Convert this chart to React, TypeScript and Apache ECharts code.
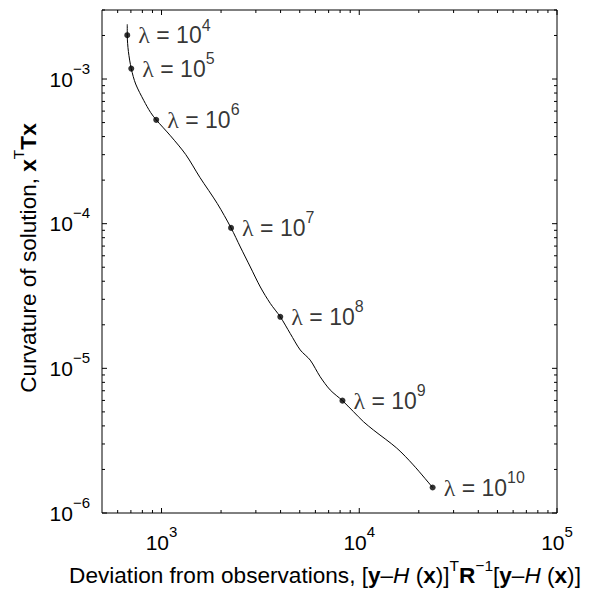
import React, { useEffect, useRef } from "react";
import * as echarts from "echarts";

// ---- data ----
const curveX = [671, 671, 680, 703, 740, 814, 880, 940, 1110, 1327, 1563, 1913, 2247, 2504, 2813, 3160, 3549, 3987, 4477, 5029, 5649, 6343, 7126, 8222, 9343, 10494, 11788, 15470, 18760, 23500];
const curveY = [2.39e-3, 2.01e-3, 1.55e-3, 1.18e-3, 9.24e-4, 7.09e-4, 5.88e-4, 5.22e-4, 4.05e-4, 3.0e-4, 2.09e-4, 1.38e-4, 9.35e-5, 6.9e-5, 5.02e-5, 3.65e-5, 2.81e-5, 2.27e-5, 1.74e-5, 1.34e-5, 1.14e-5, 8.75e-6, 7.09e-6, 5.98e-6, 5.02e-6, 4.28e-6, 3.75e-6, 2.81e-6, 2.15e-6, 1.5e-6];

const lambdaExp = [4, 5, 6, 7, 8, 9, 10];
const lambdaX = [671, 703, 940, 2247, 3987, 8222, 23500];
const lambdaY = [2.01e-3, 1.18e-3, 5.22e-4, 9.35e-5, 2.27e-5, 5.98e-6, 1.5e-6];

const X_MIN = 500;
const X_MAX = 1e5;
const Y_MIN = 1e-6;
const Y_MAX = 3e-3;

const xMajorTicks = [1e3, 1e4, 1e5];
const xMinorTicks = [600, 700, 800, 900, 2000, 3000, 4000, 5000, 6000, 7000, 8000, 9000, 20000, 30000, 40000, 50000, 60000, 70000, 80000, 90000];
const yMajorTicks = [1e-6, 1e-5, 1e-4, 1e-3];
const yMinorTicks = [2e-6, 3e-6, 4e-6, 5e-6, 6e-6, 7e-6, 8e-6, 9e-6, 2e-5, 3e-5, 4e-5, 5e-5, 6e-5, 7e-5, 8e-5, 9e-5, 2e-4, 3e-4, 4e-4, 5e-4, 6e-4, 7e-4, 8e-4, 9e-4, 2e-3, 3e-3];

const xTitle = "{n|Deviation from observations, [}{b|y}{n|–}{i|H}{n| (}{b|x}{n|)]}{s|T}{b|R}{s|−1}{n|[}{b|y}{n|–}{i|H}{n| (}{b|x}{n|)]}";
const yTitle = "{n|Curvature of solution, }{b|x}{s|T}{b|Tx}";

const FONT = "'Liberation Sans', Arial, Helvetica, sans-serif";
const SERIF = "'Liberation Serif', 'Times New Roman', serif";

const MAJOR_LEN = 5;
const MINOR_LEN = 3;

function pow10Label(v: number): string {
  const e = Math.log10(v);
  const r = Math.round(e);
  if (Math.abs(e - r) > 1e-6) return "";
  const s = r < 0 ? "−" + Math.abs(r) : String(r);
  return `{b|10}{s|${s}}`;
}

const tickRich = {
  b: { fontSize: 21, fontFamily: FONT, color: "#000" },
  s: { fontSize: 15, fontFamily: FONT, color: "#000", padding: [0, 0, 22, 0] },
};

const titleRich = {
  n: { fontSize: 22.6, fontFamily: FONT, fill: "#000" },
  b: { fontSize: 22.6, fontFamily: FONT, fontWeight: "bold", fill: "#000" },
  i: { fontSize: 22.6, fontFamily: FONT, fontStyle: "italic", fill: "#000" },
  s: { fontSize: 15.5, fontFamily: FONT, fill: "#000", padding: [0, 0, 20, 0] },
};

export default function App() {
  const ref = useRef<HTMLDivElement>(null);

  useEffect(() => {
    document.body.style.margin = "0";
    if (!ref.current) return;
    const chart = echarts.init(ref.current, undefined, { renderer: "svg" });

    const xTickData = [
      ...xMajorTicks.map((v) => [v, Y_MIN, MAJOR_LEN]),
      ...xMinorTicks.map((v) => [v, Y_MIN, MINOR_LEN]),
    ];
    const yTickData = [
      ...yMajorTicks.map((v) => [X_MIN, v, MAJOR_LEN]),
      ...yMinorTicks.map((v) => [X_MIN, v, MINOR_LEN]),
    ];
    const tickStyle = { stroke: "#000", lineWidth: 1 };

    chart.setOption({
      animation: false,
      backgroundColor: "#fff",
      grid: {
        left: 102,
        right: 38,
        top: 10,
        bottom: 82,
        show: true,
        borderColor: "#000",
        borderWidth: 1,
        backgroundColor: "transparent",
        containLabel: false,
        outerBoundsMode: "none",
      },
      xAxis: {
        type: "log",
        logBase: 10,
        min: X_MIN,
        max: X_MAX,
        axisLine: { show: false },
        axisTick: { show: false },
        splitLine: { show: false },
        minorTick: { show: false },
        axisLabel: {
          margin: 11,
          formatter: (v: number) => pow10Label(v),
          rich: tickRich,
          showMinLabel: true,
          showMaxLabel: true,
        },
      },
      yAxis: {
        type: "log",
        logBase: 10,
        min: Y_MIN,
        max: Y_MAX,
        axisLine: { show: false },
        axisTick: { show: false },
        splitLine: { show: false },
        minorTick: { show: false },
        axisLabel: {
          margin: 12,
          formatter: (v: number) => pow10Label(v),
          rich: tickRich,
          showMinLabel: true,
          showMaxLabel: true,
        },
      },
      graphic: [
        {
          type: "text",
          x: 325,
          y: 575.5,
          silent: true,
          style: { text: xTitle, rich: titleRich, align: "center", verticalAlign: "middle", fill: "#000" },
        },
        {
          type: "text",
          x: 28,
          y: 258,
          rotation: Math.PI / 2,
          silent: true,
          style: { text: yTitle, rich: titleRich, align: "center", verticalAlign: "middle", fill: "#000" },
        },
      ],
      series: [
        {
          type: "custom",
          coordinateSystem: "cartesian2d",
          silent: true,
          clip: false,
          data: xTickData,
          renderItem: (_p: any, api: any) => {
            const v = api.value(0);
            const len = api.value(2);
            const b = api.coord([v, Y_MIN]);
            const t = api.coord([v, Y_MAX]);
            return {
              type: "group",
              children: [
                { type: "line", shape: { x1: b[0], y1: b[1], x2: b[0], y2: b[1] - len }, style: tickStyle },
                { type: "line", shape: { x1: t[0], y1: t[1], x2: t[0], y2: t[1] + len }, style: tickStyle },
              ],
            };
          },
        },
        {
          type: "custom",
          coordinateSystem: "cartesian2d",
          silent: true,
          clip: false,
          data: yTickData,
          renderItem: (_p: any, api: any) => {
            const v = api.value(1);
            const len = api.value(2);
            const l = api.coord([X_MIN, v]);
            const r = api.coord([X_MAX, v]);
            return {
              type: "group",
              children: [
                { type: "line", shape: { x1: l[0], y1: l[1], x2: l[0] + len, y2: l[1] }, style: tickStyle },
                { type: "line", shape: { x1: r[0], y1: r[1], x2: r[0] - len, y2: r[1] }, style: tickStyle },
              ],
            };
          },
        },
        {
          type: "line",
          data: curveX.map((x, i) => [x, curveY[i]]),
          smooth: 0.3,
          symbol: "none",
          silent: true,
          lineStyle: { color: "#000", width: 1 },
          z: 3,
        },
        {
          type: "scatter",
          data: lambdaX.map((x, i) => [x, lambdaY[i]]),
          symbol: "circle",
          symbolSize: 6,
          silent: true,
          itemStyle: { color: "#000" },
          z: 4,
          label: {
            show: true,
            position: "right",
            distance: 8,
            formatter: (p: any) => `{l|λ}{n| = 10}{s|${lambdaExp[p.dataIndex]}}`,
            rich: {
              l: { fontSize: 24, fontFamily: SERIF, color: "#000" },
              n: { fontSize: 23, fontFamily: FONT, color: "#000" },
              s: { fontSize: 16, fontFamily: FONT, color: "#000", padding: [0, 0, 20, 0] },
            },
          },
        },
      ],
    });

    return () => chart.dispose();
  }, []);

  return <div ref={ref} style={{ width: 595, height: 595 }} />;
}
